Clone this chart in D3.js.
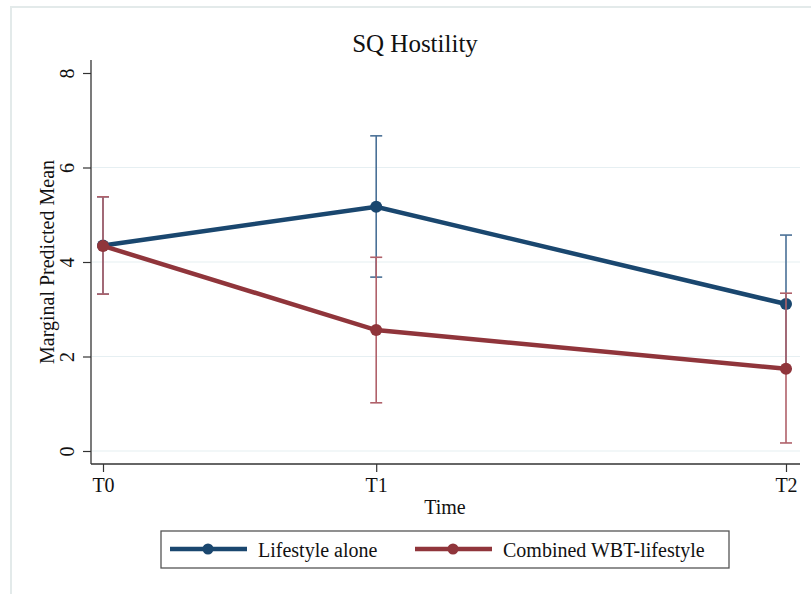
<!DOCTYPE html>
<html>
<head>
<meta charset="utf-8">
<script src="https://cdn.jsdelivr.net/npm/d3@7"></script>
<style>
  body { margin: 0; background: #fff; }
  svg { font-family: "Liberation Serif", "Times New Roman", serif; }
</style>
</head>
<body>
<svg width="811" height="594"></svg>
<script>
// values
let times = ["T0", "T1", "T2"]
let timeVals = [0, 2, 5]   // T1 sits ~40% of the way to T2
let yTicks = [0, 2, 4, 6, 8]
let gridTicks = [0, 2, 4, 6]

// lifestyle CI at T0 and lower end at T2 are hidden behind the red series
let lifestyleMean = [4.35, 5.17, 3.11]
let lifestyleLo   = [3.32, 3.68, 1.74]
let lifestyleHi   = [5.38, 6.67, 4.57]

let combinedMean = [4.34, 2.56, 1.74]
let combinedLo   = [3.32, 1.02, 0.17]
let combinedHi   = [5.38, 4.10, 3.34]

let seriesNames = ["Lifestyle alone", "Combined WBT-lifestyle"]
let colorArray = ["#1a476f", "#90353b"]
let ciColors = ["#4a7096", "#b0616a"]

let series = [
  { name: seriesNames[0], mean: lifestyleMean, lo: lifestyleLo, hi: lifestyleHi },
  { name: seriesNames[1], mean: combinedMean, lo: combinedLo, hi: combinedHi }
]

var svg = d3.select("svg")

// outer frame (faint)
svg.append("rect")
  .attr("x", 11).attr("y", 7)
  .attr("width", 820).attr("height", 600)
  .attr("fill", "none")
  .attr("stroke", "#e3eaea")
  .attr("stroke-width", 2)

let x = d3.scaleLinear()
  .domain([timeVals[0], timeVals[2]])
  .range([103, 786])

let y = d3.scaleLinear()
  .domain([0, 8])
  .range([451, 73])

// gridlines
svg.append("g")
  .selectAll("line")
  .data(gridTicks)
  .enter().append("line")
    .attr("x1", 92).attr("x2", 800)
    .attr("y1", d => y(d)).attr("y2", d => y(d))
    .attr("stroke", "#e6eff2")
    .attr("stroke-width", 1.2)

// y axis
let yAxis = svg.append("g")
  .attr("transform", "translate(91,0)")
  .call(d3.axisLeft(y).tickValues(yTicks).tickSize(8).tickPadding(0))
yAxis.select(".domain").attr("d", "M0,60V464").attr("stroke", "#333").attr("stroke-width", 1.3)
yAxis.selectAll(".tick line").attr("stroke", "#333").attr("stroke-width", 1.2)
yAxis.selectAll(".tick text")
  .attr("transform", "translate(-24,0) rotate(-90)")
  .attr("x", 0).attr("dy", "0.35em")
  .attr("text-anchor", "middle")
  .attr("font-size", 20)
  .attr("font-family", "Liberation Serif")
  .attr("fill", "#111")

// x axis
let xAxis = svg.append("g")
  .attr("transform", "translate(0,464)")
  .call(d3.axisBottom(x).tickValues(timeVals).tickFormat((d, i) => times[i]).tickSize(8))
xAxis.select(".domain").attr("d", "M91,0H800").attr("stroke", "#333").attr("stroke-width", 1.3)
xAxis.selectAll(".tick line").attr("stroke", "#333").attr("stroke-width", 1.2)
xAxis.selectAll(".tick text")
  .attr("y", 28).attr("dy", 0)
  .attr("font-size", 20)
  .attr("font-family", "Liberation Serif")
  .attr("fill", "#111")

// titles
svg.append("text")
  .attr("x", 415).attr("y", 52)
  .attr("text-anchor", "middle")
  .attr("font-size", 25)
  .attr("fill", "#111")
  .text("SQ Hostility")

svg.append("text")
  .attr("x", 445).attr("y", 514)
  .attr("text-anchor", "middle")
  .attr("font-size", 20)
  .attr("fill", "#111")
  .text("Time")

svg.append("text")
  .attr("transform", "translate(54,262) rotate(-90)")
  .attr("text-anchor", "middle")
  .attr("font-size", 20)
  .attr("fill", "#111")
  .text("Marginal Predicted Mean")

var line = d3.line()
  .x((d, i) => x(timeVals[i]))
  .y(d => y(d))

// series: CI, line, markers
series.forEach(function(s, k){
  let g = svg.append("g")
  let ci = g.append("g").selectAll("g")
    .data(timeVals)
    .enter().append("g")
      .attr("stroke", ciColors[k])
      .attr("stroke-width", 1.6)
  ci.append("line")
    .attr("x1", d => x(d)).attr("x2", d => x(d))
    .attr("y1", (d, i) => y(s.lo[i])).attr("y2", (d, i) => y(s.hi[i]))
  ci.append("line")
    .attr("x1", d => x(d) - 6).attr("x2", d => x(d) + 6)
    .attr("y1", (d, i) => y(s.lo[i])).attr("y2", (d, i) => y(s.lo[i]))
  ci.append("line")
    .attr("x1", d => x(d) - 6).attr("x2", d => x(d) + 6)
    .attr("y1", (d, i) => y(s.hi[i])).attr("y2", (d, i) => y(s.hi[i]))

  g.append("path")
    .attr("d", line(s.mean))
    .attr("fill", "none")
    .attr("stroke", colorArray[k])
    .attr("stroke-width", 4.5)

  g.selectAll("circle")
    .data(s.mean)
    .enter().append("circle")
      .attr("cx", (d, i) => x(timeVals[i]))
      .attr("cy", d => y(d))
      .attr("r", 6)
      .attr("fill", colorArray[k])
})

// legend
let legend = svg.append("g")
legend.append("rect")
  .attr("x", 161).attr("y", 531)
  .attr("width", 568).attr("height", 37)
  .attr("fill", "#fff")
  .attr("stroke", "#555")
  .attr("stroke-width", 1.3)

let legX = [170, 415]
seriesNames.forEach(function(name, k){
  legend.append("line")
    .attr("x1", legX[k]).attr("x2", legX[k] + 77)
    .attr("y1", 549).attr("y2", 549)
    .attr("stroke", colorArray[k])
    .attr("stroke-width", 4.5)
  legend.append("circle")
    .attr("cx", legX[k] + 38).attr("cy", 549)
    .attr("r", 5.5)
    .attr("fill", colorArray[k])
  legend.append("text")
    .attr("x", legX[k] + 88).attr("y", 557)
    .attr("font-size", 20)
    .attr("fill", "#111")
    .text(name)
})
</script>
</body>
</html>
